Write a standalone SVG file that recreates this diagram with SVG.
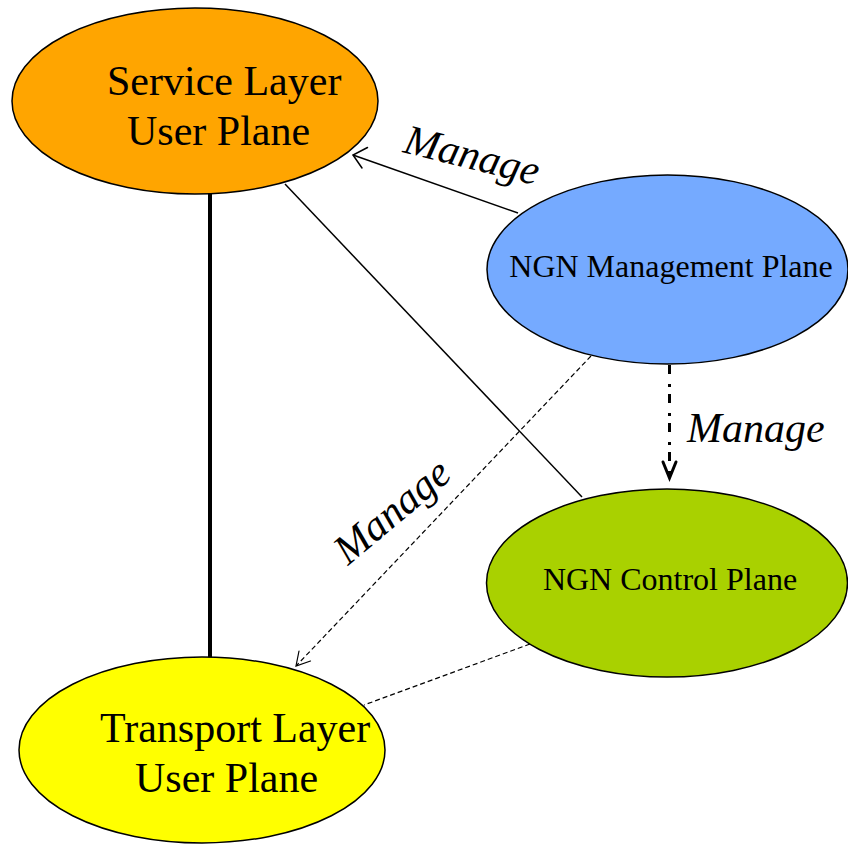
<svg xmlns="http://www.w3.org/2000/svg" width="848" height="844" viewBox="0 0 848 844">
  <defs>
    <style>
      .node { stroke: #000; stroke-width: 1.5; }
      .big { font-family: "Liberation Serif", "Times New Roman", serif; font-size: 42px; fill: #000; }
      .mid { font-family: "Liberation Serif", "Times New Roman", serif; font-size: 32px; fill: #000; }
      .lbl { font-family: "Liberation Serif", "Times New Roman", serif; font-size: 42px; font-style: italic; fill: #000; }
      .thin { stroke: #000; stroke-width: 1.5; fill: none; }
      .dash { stroke: #000; stroke-width: 1.2; fill: none; stroke-dasharray: 5 3; }
      .head { stroke: #000; fill: none; stroke-linecap: round; stroke-linejoin: miter; }
    </style>
  </defs>
  <rect width="848" height="844" fill="#fff"/>

  <g id="connectors">
    <!-- Service <-> Transport (thick solid) -->
    <line x1="210" y1="194" x2="210" y2="658" stroke="#000" stroke-width="4"/>
    <!-- Service <-> Control -->
    <line class="thin" x1="285" y1="184" x2="582" y2="497"/>
    <!-- Management -> Service -->
    <line class="thin" x1="518" y1="213" x2="353" y2="155"/>
    <path class="head" stroke-width="1.5" d="M367.5,147.5 L353,155 L362,168"/>
    <!-- Management -> Control (dash-dot) -->
    <line x1="669.5" y1="365" x2="669.5" y2="476" stroke="#000" stroke-width="3" stroke-dasharray="9 10 3 7"/>
    <path class="head" stroke-width="3" d="M663,462 L669.5,478 L676,462"/>
    <!-- Management -> Transport (dashed) -->
    <line class="dash" x1="591" y1="356" x2="297" y2="665"/>
    <path class="head" stroke-width="1.2" d="M299,651 L296,666 L310.5,661"/>
    <!-- Control <-> Transport (dashed) -->
    <line class="dash" x1="530" y1="644" x2="364" y2="705"/>
  </g>

  <g id="label-manage-service">
    <text class="lbl" transform="translate(402,152) rotate(14)">Manage</text>
  </g>
  <g id="label-manage-control">
    <text class="lbl" x="687" y="442">Manage</text>
  </g>
  <g id="label-manage-transport">
    <text class="lbl" transform="translate(348,566) rotate(-40)">Manage</text>
  </g>

  <g id="service-layer">
    <ellipse class="node" cx="195" cy="101" rx="183" ry="93" fill="#FFA500"/>
    <text class="big" x="107" y="95">Service Layer</text>
    <text class="big" x="127" y="145">User Plane</text>
  </g>

  <g id="transport-layer">
    <ellipse class="node" cx="202" cy="750" rx="183" ry="93" fill="#FFFF00"/>
    <text class="big" x="100" y="742">Transport Layer</text>
    <text class="big" x="135" y="792">User Plane</text>
  </g>

  <g id="management-plane">
    <ellipse class="node" cx="667.5" cy="269.5" rx="180.5" ry="94.5" fill="#75AAFF"/>
    <text class="mid" x="671" y="277" text-anchor="middle">NGN Management Plane</text>
  </g>

  <g id="control-plane">
    <ellipse class="node" cx="667" cy="583" rx="180.5" ry="94" fill="#A9D100"/>
    <text class="mid" x="670" y="590" text-anchor="middle">NGN Control Plane</text>
  </g>
</svg>
